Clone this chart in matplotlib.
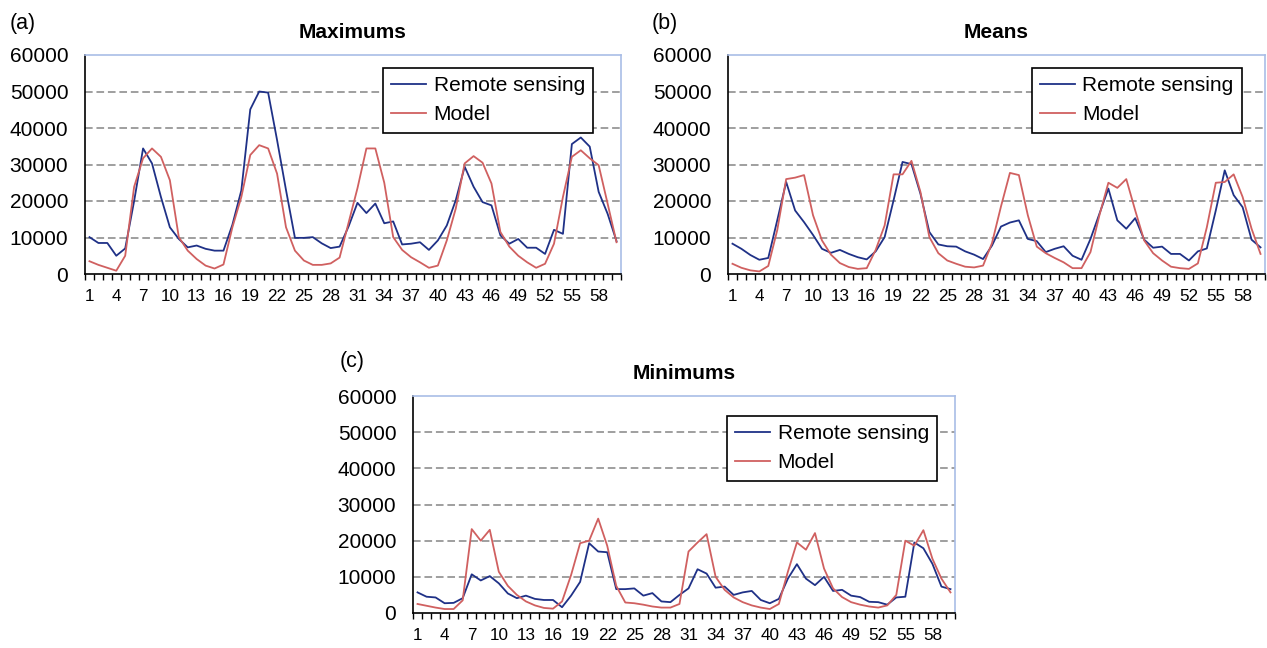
import numpy as np
import matplotlib
matplotlib.use('Agg')
import matplotlib.pyplot as plt

plt.rcParams['font.family'] = ['Liberation Sans', 'DejaVu Sans']

# 60 monthly steps
steps = np.arange(1, 61)

max_remote = [10100, 8500, 8500, 5000, 7000, 20000, 34400, 30300, 21100, 12800,
              9600, 7300, 7800, 6900, 6400, 6400, 13500, 22900, 45100, 50000,
              49700, 36700, 23000, 9900, 9900, 10100, 8400, 7100, 7500, 13000,
              19500, 16700, 19300, 13900, 14400, 8100, 8300, 8700, 6600, 9200,
              13300, 20200, 29400, 23900, 19700, 18800, 10600, 8300, 9600, 7200,
              7200, 5500, 12100, 11000, 35600, 37400, 34900, 22500, 16500, 9000]
max_model = [3500, 2500, 1700, 900, 5000, 23900, 31700, 34400, 32100, 25700,
             10100, 6400, 4100, 2300, 1500, 2600, 12800, 21100, 32600, 35300,
             34400, 27500, 12800, 6400, 3700, 2500, 2500, 2900, 4500, 14000,
             23500, 34400, 34400, 25000, 10100, 6600, 4600, 3200, 1700, 2300,
             9200, 17900, 30300, 32300, 30500, 24800, 11500, 7500, 5000, 3200,
             1700, 2800, 8300, 21100, 32100, 33900, 31700, 29800, 19300, 8700]

mean_remote = [8300, 6900, 5200, 3900, 4400, 14700, 25200, 17400, 14200, 10700,
               6900, 5800, 6600, 5500, 4600, 4000, 6200, 10100, 20200, 30700,
               30100, 22000, 11500, 8100, 7600, 7500, 6200, 5300, 4100, 7800,
               13000, 14100, 14700, 9600, 9000, 6000, 6900, 7600, 5000, 3900,
               9600, 16500, 23400, 14700, 12400, 15300, 9400, 7200, 7500, 5500,
               5500, 3700, 6200, 7000, 17400, 28400, 21600, 18300, 9400, 7300]
mean_model = [2800, 1700, 1000, 700, 2200, 12000, 26000, 26400, 27100, 16100,
              9200, 5300, 3000, 1900, 1400, 1600, 6600, 13300, 27300, 27300,
              31000, 22500, 10100, 5700, 3700, 2800, 2000, 1800, 2300, 8500,
              18500, 27700, 27100, 16100, 7500, 5700, 4400, 3200, 1600, 1600,
              6000, 16100, 25000, 23600, 26000, 17400, 9200, 5700, 3700, 2000,
              1600, 1400, 2900, 12800, 25000, 25200, 27300, 21100, 12400, 5500]

min_remote = [5700, 4500, 4300, 2700, 2800, 4100, 10700, 9000, 10200, 8200,
              5400, 4100, 4800, 3900, 3600, 3600, 1600, 4800, 8600, 19300,
              17000, 16800, 6600, 6600, 6800, 4800, 5500, 3200, 3000, 5000,
              6800, 12100, 10900, 7000, 7300, 5000, 5700, 6100, 3600, 2700,
              3900, 9500, 13500, 9500, 7700, 10000, 6100, 6400, 4800, 4400,
              3100, 3000, 2300, 4300, 4500, 19500, 17900, 13600, 7300, 6600]
min_model = [2500, 2000, 1500, 1100, 1100, 3500, 23200, 20000, 23000, 11400,
             7500, 5000, 3200, 2100, 1400, 1200, 3200, 10500, 19300, 20000,
             26100, 18600, 7500, 2900, 2700, 2300, 1800, 1500, 1500, 2500,
             17000, 19500, 21800, 10000, 6400, 4300, 3000, 2100, 1500, 1100,
             2500, 11400, 19500, 17500, 22100, 12300, 6800, 4400, 3000, 2300,
             1800, 1500, 2100, 5000, 20000, 18600, 22900, 15000, 9500, 5700]

y_ticks = [0, 10000, 20000, 30000, 40000, 50000, 60000]
x_labels = steps[::3]

BLUE = '#1f3187'
RED = '#d06060'
W, H = 1267, 648

fig = plt.figure(figsize=(W / 100, H / 100), dpi=100)

panels = [
    ('(a)', 'Maximums', max_remote, max_model, (85, 55, 621, 274), (10, 29), (0.948, 0.942)),
    ('(b)', 'Means', mean_remote, mean_model, (728, 55, 1265, 274), (652, 29), (0.957, 0.942)),
    ('(c)', 'Minimums', min_remote, min_model, (413, 396, 955, 613), (340, 367), (0.967, 0.909)),
]

for tag, title, remote, model, (l, t, r, b), (tx, ty), leg_pos in panels:
    ax = fig.add_axes([l / W, 1 - b / H, (r - l) / W, (b - t) / H])
    for v in y_ticks[1:-1]:
        ax.axhline(v, color='#858585', lw=1.1, ls=(0, (5, 2.5)), zorder=1)
    ax.plot(steps, remote, color=BLUE, lw=1.3, label='Remote sensing', zorder=3)
    ax.plot(steps, model, color=RED, lw=1.3, label='Model', zorder=3)

    ax.set_xlim(0.5, 60.5)
    ax.set_ylim(0, 60000)
    ax.set_yticks(y_ticks)
    ax.set_yticklabels([str(v) for v in y_ticks])
    ax.set_xticks(x_labels)
    ax.set_xticklabels([str(v) for v in x_labels])
    ax.set_xticks(np.arange(0.5, 61, 1), minor=True)

    ax.tick_params(axis='y', length=0, pad=12, labelsize=15)
    ax.tick_params(axis='x', which='major', length=0, pad=11, labelsize=12.3)
    ax.tick_params(axis='x', which='minor', length=4, width=1, direction='out')

    for side in ('top', 'right'):
        ax.spines[side].set_color('#a9bde6')
        ax.spines[side].set_linewidth(1.2)
    for side in ('left', 'bottom'):
        ax.spines[side].set_color('black')
        ax.spines[side].set_linewidth(1.2)

    ax.set_title(title, fontweight='bold', fontsize=15, pad=12)
    fig.text(tx / W, 1 - ty / H, tag, fontsize=15.5, va='baseline', ha='left')

    leg = ax.legend(loc='upper right', bbox_to_anchor=leg_pos, fontsize=15,
                    fancybox=False, edgecolor='black', framealpha=1,
                    handlelength=1.68, handletextpad=0.35, borderpad=0.4,
                    labelspacing=0.5, borderaxespad=0)
    leg.get_frame().set_linewidth(1.2)

fig.savefig('out.png', dpi=100)
